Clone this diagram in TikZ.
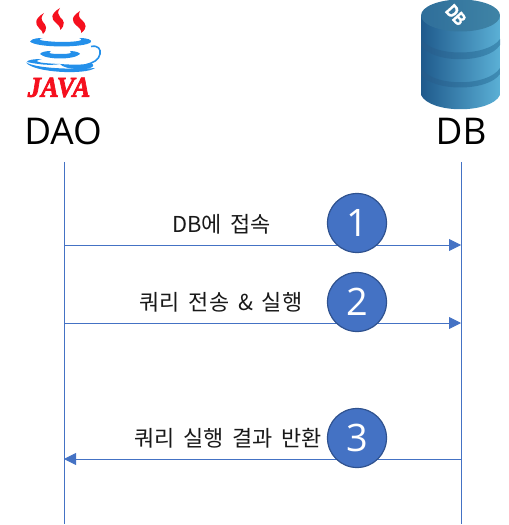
\documentclass[tikz,border=0pt]{standalone}
\usepackage{fontspec}
\setmainfont{Open Sans}
\newfontfamily\krfont[WordSpace=1.8]{Noto Sans CJK KR}
\newfontfamily\javafont[FakeBold=2.5]{Liberation Serif}
\newfontfamily\markfont[FakeBold=2]{Liberation Sans}
\usetikzlibrary{arrows.meta}
\definecolor{lineblue}{HTML}{4472C4}
\definecolor{ringblue}{HTML}{2F528F}
\definecolor{javared}{HTML}{F5101E}
\definecolor{javablue}{HTML}{2490EA}
\definecolor{dbdark}{HTML}{1F5A8C}
\definecolor{dblight}{HTML}{5BB0D6}
\definecolor{bandd}{HTML}{245A8A}
\definecolor{bandl}{HTML}{3F8DB5}
\definecolor{topd}{HTML}{2F6E9A}
\definecolor{topl}{HTML}{3F84A6}
\tikzset{
  lifeline/.style={draw=lineblue,line width=0.9pt},
  msg/.style={draw=lineblue,line width=0.9pt,-{Triangle[length=12bp,width=12bp,fill=lineblue]}},
  stepcircle/.style={circle,draw=ringblue,line width=1.2pt,fill=lineblue,minimum size=59bp,inner sep=0pt,text=white,font=\fontsize{38}{38}\selectfont},
  msglabel/.style={inner sep=0pt,font=\krfont\fontsize{22}{22}\selectfont,text=black!90},
  actor/.style={inner sep=0pt,font=\fontsize{37}{37}\selectfont,text=black},
}
\begin{document}
\begin{tikzpicture}[x=1bp,y=-1bp]
\useasboundingbox (0,0) rectangle (509,525);
% java logo
\fill[javared] (44,13) .. controls (34,19) and (35,24) .. (39,28) .. controls (41,30) and (43,32) .. (43,34) .. controls (48,29) and (46,25) .. (43,22) .. controls (41,19) and (41,17) .. (44,13) -- cycle;
\fill[javared] (60,8) .. controls (50,14) and (51,19) .. (56,23) .. controls (58,25) and (61,27) .. (60,30) .. controls (66,25) and (64,20) .. (60,17) .. controls (58,15) and (57,12) .. (60,8) -- cycle;
\fill[javared] (80,11) .. controls (71,17) and (71,21) .. (77,26) .. controls (79,28) and (82,30) .. (81,33) .. controls (88,28) and (86,24) .. (82,20) .. controls (79,18) and (78,15) .. (80,11) -- cycle;
\fill[javablue] (30,41.5) .. controls (32,38) and (40,38) .. (43,38) .. controls (37,39) and (36,41) .. (60,42) .. controls (80,42) and (85,40) .. (79,38) .. controls (88,38) and (92,40) .. (91,42) .. controls (86,48) and (36,48) .. (30,41.5) -- cycle;
\fill[javablue] (40,54) .. controls (41,52) and (46,51) .. (51,51) .. controls (47,53) and (50,54) .. (60,54) .. controls (70,54) and (73,53) .. (70,51) .. controls (76,51) and (80,53) .. (80,54) .. controls (74,60) and (46,60) .. (40,54) -- cycle;
\fill[javablue] (27,62) .. controls (27,60) and (34,59) .. (42,59) .. controls (33,61) and (35,63) .. (60,64) .. controls (50,66) and (36,64) .. (27,62) -- cycle;
\fill[javablue] (26,62.5) .. controls (34,73) and (86,75) .. (95,68) .. controls (86,69) and (40,70) .. (26,62.5) -- cycle;
\fill[javablue] (60,64) .. controls (74,65) and (84,65) .. (91,63) .. controls (97,66) and (90,70) .. (78,69) .. controls (70,69) and (62,67) .. (60,64) -- cycle;
\draw[javablue,line width=1.6pt] (91,46.5) .. controls (98,45) and (101,49) .. (100,54) .. controls (99,60) and (93,63) .. (85,65);
\node[inner sep=0pt,text=javared,xscale=0.92,font=\javafont\bfseries\itshape\fontsize{29}{29}\selectfont] (javatext) at (59,87.5) {JAVA};
% db
\shade[left color=dbdark,right color=dblight] (421,15) -- (421,95) .. controls (430,114) and (491,114) .. (500,95) -- (500,15) -- cycle;
\shade[left color=bandd,right color=bandl] (421,39) .. controls (432,57) and (488,57) .. (500,39) -- (500,45) .. controls (488,64) and (432,64) .. (421,45) -- cycle;
\shade[left color=bandd,right color=bandl] (421,68) .. controls (432,87) and (488,87) .. (500,68) -- (500,74) .. controls (488,92) and (432,92) .. (421,74) -- cycle;
\shade[left color=topd,right color=topl] (460.5,15.5) ellipse[x radius=39.5,y radius=16];
\node[inner sep=0pt,text=white,rotate=-48,xscale=0.8,font=\markfont\bfseries\fontsize{18}{18}\selectfont] (dbmark) at (456,15) {DB};
% actor labels
\node[actor] (dao) at (63,131.5) {DAO};
\node[actor] (db) at (461,131.5) {DB};
% lifelines
\coordinate (daotop) at (64,162);
\coordinate (dbtop) at (461,162);
\coordinate (daobot) at (64,524);
\coordinate (dbbot) at (461,524);
\draw[lifeline] (daotop) -- (daobot);
\draw[lifeline] (dbtop) -- (dbbot);
% messages
\coordinate (a1) at (64,245); \coordinate (b1) at (461,245);
\coordinate (a2) at (64,323); \coordinate (b2) at (461,323);
\coordinate (a3) at (64,459); \coordinate (b3) at (461,459);
\draw[msg] (a1) -- (b1);
\draw[msg] (a2) -- (b2);
\draw[msg] (b3) -- (a3);
\node[stepcircle] (c1) at (357,223) {1};
\node[stepcircle] (c2) at (357,302) {2};
\node[stepcircle] (c3) at (357,438) {3};
\node[msglabel] (l1) at (221.5,224) {DB에 접속};
\node[msglabel] (l2) at (221,302) {쿼리 전송 \& 실행};
\node[msglabel] (l3) at (228,438) {쿼리 실행 결과 반환};
\end{tikzpicture}
\end{document}
